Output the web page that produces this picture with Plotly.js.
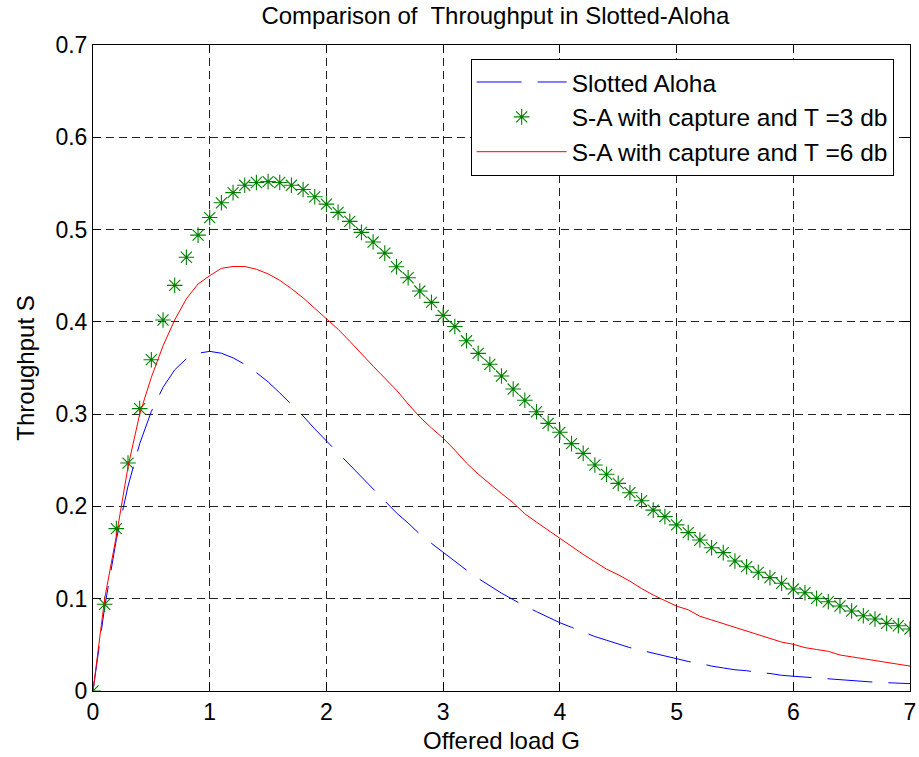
<!DOCTYPE html>
<html>
<head>
<meta charset="utf-8">
<script src="https://cdn.plot.ly/plotly-3.0.1.min.js"></script>
<style>
html,body{margin:0;padding:0;background:#fff;}
#chart{width:919px;height:757px;}
</style>
</head>
<body>
<div id="chart"></div>
<script>
// Offered load G (shared x values)
var offeredLoad = [0.0,0.1,0.2,0.3,0.4,0.5,0.6,0.7,0.8,0.9,1.0,1.1,1.2,1.3,1.4,1.5,1.6,1.7,1.8,1.9,2.0,2.1,2.2,2.3,2.4,2.5,2.6,2.7,2.8,2.9,3.0,3.1,3.2,3.3,3.4,3.5,3.6,3.7,3.8,3.9,4.0,4.1,4.2,4.3,4.4,4.5,4.6,4.7,4.8,4.9,5.0,5.1,5.2,5.3,5.4,5.5,5.6,5.7,5.8,5.9,6.0,6.1,6.2,6.3,6.4,6.5,6.6,6.7,6.8,6.9,7.0];

// Slotted Aloha (blue dashed)
var slottedAloha = [0,0.091,0.164,0.222,0.268,0.303,0.329,0.348,0.360,0.366,0.368,0.366,0.361,0.354,0.345,0.335,0.323,0.311,0.298,0.284,0.271,0.257,0.244,0.231,0.218,0.205,0.193,0.182,0.170,0.160,0.150,0.140,0.131,0.122,0.114,0.106,0.099,0.092,0.086,0.080,0.074,0.069,0.064,0.059,0.055,0.051,0.047,0.044,0.041,0.038,0.035,0.032,0.030,0.027,0.025,0.023,0.022,0.020,0.019,0.017,0.016,0.015,0.014,0.013,0.012,0.011,0.010,0.0095,0.009,0.0085,0.008];

// S-A with capture, T = 3 dB (green stars)
var captureT3 = [0,0.094,0.176,0.247,0.306,0.359,0.402,0.4395,0.470,0.494,0.513,0.529,0.540,0.548,0.551,0.552,0.551,0.548,0.5435,0.5355,0.5276,0.5186,0.5089,0.497,0.4865,0.4745,0.4597,0.4478,0.4334,0.4211,0.407,0.395,0.3795,0.3659,0.354,0.3413,0.3272,0.315,0.3026,0.290,0.2803,0.268,0.2575,0.2449,0.2348,0.225,0.2149,0.2062,0.196,0.1889,0.180,0.1716,0.1636,0.1553,0.1499,0.1409,0.1347,0.1286,0.1228,0.1167,0.1105,0.1065,0.1004,0.0967,0.0921,0.0867,0.0816,0.078,0.0733,0.0707,0.0672];

// S-A with capture, T = 6 dB (red line)
var captureT6 = [0,0.100,0.168,0.243,0.300,0.340,0.374,0.402,0.425,0.441,0.450,0.458,0.460,0.460,0.457,0.452,0.445,0.436,0.426,0.415,0.403,0.392,0.379,0.365,0.352,0.339,0.326,0.311,0.297,0.285,0.274,0.261,0.247,0.235,0.224,0.214,0.204,0.192,0.183,0.174,0.165,0.156,0.148,0.140,0.132,0.126,0.119,0.111,0.104,0.098,0.092,0.088,0.081,0.077,0.073,0.069,0.065,0.061,0.057,0.053,0.0506,0.047,0.045,0.043,0.039,0.037,0.035,0.033,0.031,0.029,0.027];

var seriesNames = ['Slotted Aloha','S-A with capture and T =3 db','S-A with capture and T =6 db'];
var xTicks = [0,1,2,3,4,5,6,7];
var yTicks = [0,0.1,0.2,0.3,0.4,0.5,0.6,0.7];
var yTickLabels = ['0','0.1','0.2','0.3','0.4','0.5','0.6','0.7'];

var FONT = 'Liberation Sans, Arial, Helvetica, sans-serif';

var traces = [
  {x: offeredLoad, y: slottedAloha, name: seriesNames[0], type:'scatter', mode:'lines',
   line:{color:'#0000FF', width:1, dash:'45px,16px'}},
  {x: offeredLoad, y: captureT3, name: seriesNames[1], type:'scatter', mode:'markers',
   marker:{symbol:'asterisk-open', size:13, color:'#008000', line:{color:'#008000', width:1.1}}},
  {x: offeredLoad, y: captureT6, name: seriesNames[2], type:'scatter', mode:'lines',
   line:{color:'#FF0000', width:1}}
];

var axisCommon = {
  showline:true, mirror:'ticks', linecolor:'#000', linewidth:1,
  ticks:'inside', ticklen:8, tickcolor:'#000', tickwidth:1,
  showgrid:true, gridcolor:'#222', griddash:'8px,5px', gridwidth:1,
  zeroline:false, tickfont:{family:FONT, size:23, color:'#000'}
};

var layout = {
  width:919, height:757,
  paper_bgcolor:'#fff', plot_bgcolor:'#fff',
  margin:{l:93, r:9, t:45, b:66},
  font:{family:FONT, size:23, color:'#000'},
  title:{text:'Comparison of  Throughput in Slotted-Aloha', font:{family:FONT, size:24, color:'#000'},
         x:0.539, xanchor:'center', xref:'container', y:0.979, yanchor:'middle', yref:'container'},
  xaxis: Object.assign({}, axisCommon, {
    range:[0,7], tickvals:xTicks, ticktext:xTicks.map(String),
    title:{text:'Offered load G', font:{family:FONT, size:24, color:'#000'}, standoff:8}
  }),
  yaxis: Object.assign({}, axisCommon, {
    range:[0,0.7], tickvals:yTicks, ticktext:yTickLabels,
    title:{text:'Throughput S', font:{family:FONT, size:24, color:'#000'}, standoff:14}
  }),
  legend:{x:0.98, xanchor:'right', y:0.979, yanchor:'top',
          bgcolor:'#fff', bordercolor:'#000', borderwidth:1,
          font:{family:FONT, size:24.5, color:'#000'}, itemwidth:90, tracegroupgap:0},
  showlegend:true
};

Plotly.newPlot('chart', traces, layout, {displayModeBar:false, staticPlot:true});
</script>
</body>
</html>
